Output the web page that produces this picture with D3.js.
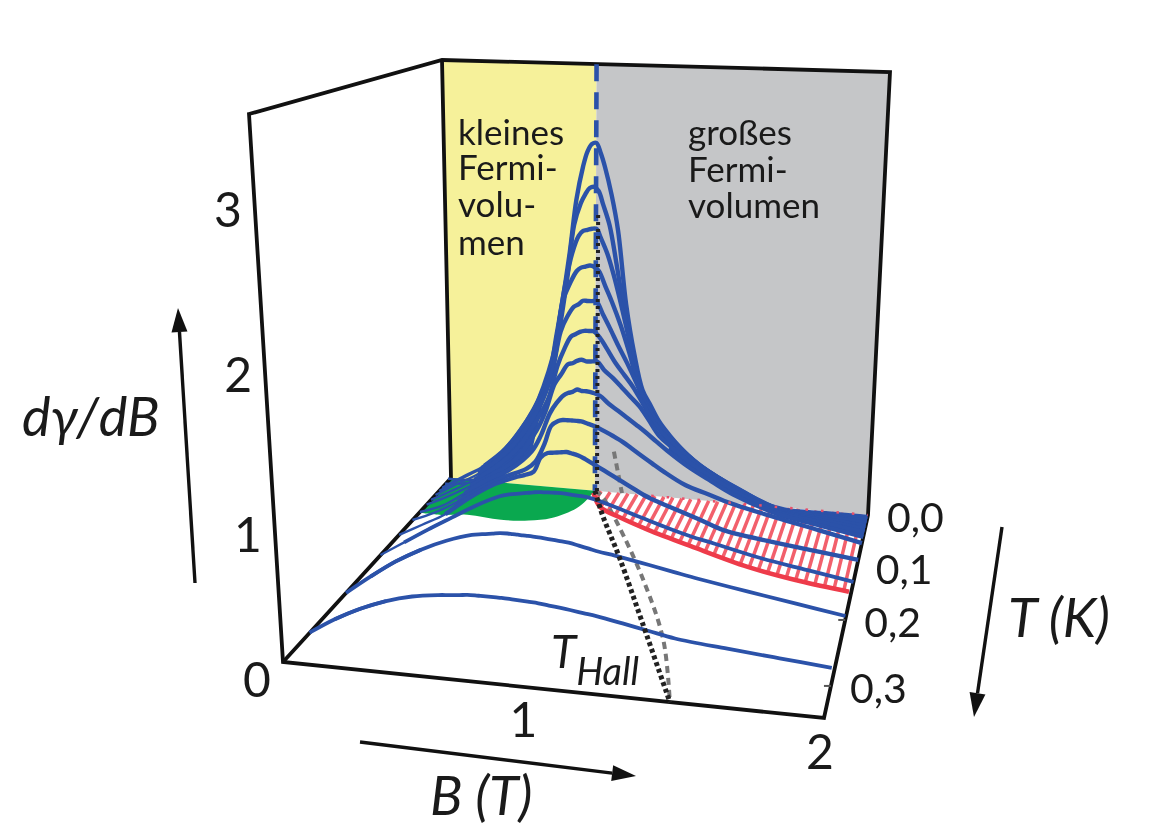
<!DOCTYPE html>
<html>
<head>
<meta charset="utf-8">
<script src="https://cdn.jsdelivr.net/npm/d3@7"></script>
<style>
  html, body { margin: 0; background: #fff; }
  svg { display: block; filter: blur(0.6px); }
  text { font-family: "Lato", sans-serif; fill: #1a1a1a; }
  .it { font-style: italic; }
</style>
</head>
<body>
<svg id="chart" width="1159" height="832"></svg>
<script>
// field grid shared by all the curves (T)
const fieldB = [0,.1,.2,.3,.4,.5,.54,.58,.61,.64,.66,.68,.7,.72,.74,.77,.8,.84,.88,.92,.96,1,1.05,1.1,1.2,1.3,1.4,1.6,1.8,2];

// temperature of each curve (K), from the wall outwards
const curveT = [.004,.008,.012,.016,.021,.027,.033,.042,.054,.087,.128,.2,.3];

// d gamma / dB, one array per curve
const g1  = [.022,.028,.070,.291,.643,1.16,1.55,2.01,2.42,2.68,2.80,2.86,2.87,2.79,2.68,2.47,2.20,1.62,1.23,.945,.809,.679,.565,.468,.304,.187,.095,.004,.002,.001];
const g2  = [.006,.027,.091,.262,.558,1.02,1.38,1.84,2.24,2.41,2.48,2.53,2.54,2.51,2.41,2.25,1.98,1.58,1.26,.973,.828,.694,.581,.492,.344,.241,.139,.017,.009,.001];
const g3  = [0,.114,.225,.390,.648,1.04,1.39,1.79,2.03,2.17,2.21,2.22,2.23,2.23,2.16,2.04,1.87,1.60,1.31,1.02,.864,.721,.622,.529,.378,.266,.172,.037,.019,.002];
const g4  = [0,.118,.230,.390,.641,.978,1.26,1.68,1.81,1.91,1.94,1.95,1.96,1.95,1.92,1.80,1.68,1.50,1.29,1.06,.909,.762,.659,.556,.404,.295,.204,.057,.030,.003];
const g5  = [0,.110,.214,.367,.581,.909,1.12,1.45,1.57,1.65,1.67,1.70,1.70,1.70,1.70,1.60,1.50,1.36,1.23,1.09,.936,.808,.703,.599,.434,.328,.236,.074,.036,0];
const g6  = [0,.095,.201,.328,.504,.799,.953,1.21,1.34,1.44,1.46,1.48,1.49,1.49,1.49,1.44,1.36,1.25,1.16,1.07,.956,.832,.707,.624,.467,.355,.254,.097,.048,0];
const g7  = [0,.086,.188,.300,.431,.700,.866,1.09,1.17,1.25,1.26,1.28,1.29,1.28,1.28,1.28,1.22,1.16,1.09,1.02,.946,.840,.705,.627,.482,.374,.274,.122,.060,.001];
const g8  = [0,.065,.181,.307,.404,.572,.708,.898,.989,1.05,1.07,1.08,1.10,1.09,1.09,1.08,1.06,1.00,.947,.892,.837,.781,.705,.631,.500,.394,.294,.154,.074,0];
const g9  = [.002,.077,.177,.300,.401,.480,.544,.696,.851,.893,.903,.903,.902,.901,.898,.880,.862,.825,.786,.743,.691,.639,.575,.513,.406,.341,.276,.178,.089,0];
const g10 = [0,.094,.191,.332,.448,.524,.547,.580,.697,.737,.741,.745,.748,.752,.744,.729,.702,.660,.617,.575,.532,.490,.436,.395,.325,.255,.184,.115,.058,.002];
const g11 = [.002,.114,.227,.333,.438,.523,.541,.552,.560,.568,.572,.572,.573,.573,.573,.570,.564,.557,.544,.522,.497,.471,.438,.406,.342,.285,.238,.144,.071,0];
const g12 = [0,.136,.260,.359,.436,.490,.499,.507,.514,.514,.511,.509,.506,.504,.501,.495,.488,.478,.468,.450,.431,.412,.395,.374,.332,.289,.247,.172,.100,.029];
const g13 = [.002,.117,.210,.283,.333,.361,.368,.375,.381,.383,.383,.383,.383,.383,.383,.381,.378,.374,.370,.361,.353,.344,.331,.319,.286,.251,.217,.182,.152,.122];
const curves = [g1,g2,g3,g4,g5,g6,g7,g8,g9,g10,g11,g12,g13];

// where neighbouring curves run together into the solid blue band
const bandLeftEnd = [.58,.54,.54,.5,.5,.5,.5,.4,.4];
const bandRightStart = [.84,.88,.92,1,1.05,1.05,1.1];

// phase boundaries on the floor: field (T) and temperature (K)
const greenB = [0,.10,.21,.37,.49,.58,.66,.68,.69];
const greenT = [.043,.044,.042,.046,.045,.040,.025,.013,0];
const redB   = [.69,.76,.88,1.03,1.25,1.53,1.77,1.99];
const redT   = [.003,.021,.034,.049,.077,.111,.132,.147];
const hallB  = [.69,.73,.80,.97,1.20,1.43];
const hallT  = [0,.012,.034,.106,.224,.330];
const hall2B = [.69,.73,.88,1.12,1.31,1.43];
const hall2T = [0,.005,.042,.146,.251,.330];
const wallHallB = [.78,.82];
const wallHallZ = [.36,0];
const criticalB = .69;

const zTicks = [0,1,2,3];
const bTicks = [1,2];
const tTicks = [0,.1,.2,.3];
const tTickLabels = ["0,0","0,1","0,2","0,3"];
const bMax = 2, tMax = .33, zMax = 3.47;

const smallLines = ["kleines","Fermi-","volu-","men"];
const largeLines = ["großes","Fermi-","volumen"];

// ---- box corners on the page, floor and top
const floorBackL = [451,478], floorBackR = [868,515], floorFrontL = [283,662], floorFrontR = [824,718];
const topBackL = [442,60], topBackR = [890,72], topFrontL = [249,114], topFrontR = [849,138];

const uScale = d3.scaleLinear().domain([0,bMax]).range([0,1]);
// the depth axis is not even in the drawing, and differs left and right
const depthLeft = d3.scaleLinear().domain([0,.05,.1,.2,.3,tMax]).range([0,.22,.34,.625,.842,1]);
const depthRight = d3.scaleLinear().domain([0,.1,.2,.3,tMax]).range([0,.256,.517,.842,1]);
const heightScale = d3.scaleLinear().domain([0,1,2,3,zMax]).range([0,.2646,.5566,.8577,1]);

const bilerp = (a,b,c,d,u,v) => [0,1].map(i => (a[i]*(1-u)+b[i]*u)*(1-v) + (c[i]*(1-u)+d[i]*u)*v);

// B,T,z to page pixels
const project = (b,t,z) => {
    const u = uScale(b);
    const v = depthLeft(t)*(1-u) + depthRight(t)*u;
    const w = heightScale(z);
    const p = bilerp(floorBackL,floorBackR,floorFrontL,floorFrontR,u,v);
    const q = bilerp(topBackL,topBackR,topFrontL,topFrontR,u,v);
    return [p[0]+(q[0]-p[0])*w, p[1]+(q[1]-p[1])*w];
};

const svg = d3.select("#chart");
const smooth = d3.line().curve(d3.curveCatmullRom.alpha(.5));
const straight = d3.line();

const BLUE = "#2b52a9", RED = "#ee3b4a", GREEN = "#0aa84f";

// ---- back wall
const wallPoly = (b0,b1) => [project(b0,0,0),project(b1,0,0),project(b1,0,zMax),project(b0,0,zMax)];
svg.append("path").attr("d", straight(wallPoly(0,criticalB))+"Z").attr("fill","#f6f19a");
svg.append("path").attr("d", straight(wallPoly(criticalB,bMax))+"Z").attr("fill","#c5c6c8");

// ---- floor regions
const greenEdge = greenB.map((b,i) => project(b,greenT[i],0));
const greenBack = [project(criticalB,0,0),project(0,0,0)];
svg.append("path").attr("d", smooth(greenEdge)+"L"+straight(greenBack).slice(1)+"Z").attr("fill",GREEN);

const redAt = d3.scaleLinear().domain(redB).range(redT);
svg.append("g").selectAll("line").data(d3.range(.72,2,.043)).join("line")
    .attr("x1", b => project(b,0,0)[0]).attr("y1", b => project(b,0,0)[1])
    .attr("x2", b => project(b,redAt(b),0)[0]).attr("y2", b => project(b,redAt(b),0)[1])
    .attr("stroke","#f2606c").attr("stroke-width",3.5);

// ---- frame
const frameOuter = [project(0,tMax,zMax),project(0,0,zMax),project(bMax,0,zMax),project(bMax,0,0),project(bMax,tMax,0),project(0,tMax,0)];
svg.append("path").attr("d", straight(frameOuter)+"Z").attr("fill","none").attr("stroke","#111").attr("stroke-width",3.8).attr("stroke-linejoin","miter");
svg.append("path").attr("d", straight([project(0,0,zMax),project(0,0,0),project(0,tMax,0)])).attr("fill","none").attr("stroke","#111").attr("stroke-width",3.8);

// small T ticks on the right edge
svg.append("g").selectAll("line").data(tTicks.slice(2)).join("line")
    .attr("x1", t => project(bMax,t,0)[0]).attr("y1", t => project(bMax,t,0)[1])
    .attr("x2", t => project(bMax,t,0)[0]-7).attr("y2", t => project(bMax,t,0)[1])
    .attr("stroke","#555").attr("stroke-width",2);

// ---- T Hall on the floor
svg.append("path").attr("d", smooth(hall2B.map((b,i) => project(b,hall2T[i],0))))
    .attr("fill","none").attr("stroke","#777").attr("stroke-width",4).attr("stroke-dasharray","7 5");
svg.append("path").attr("d", straight(wallHallB.map((b,i) => project(b,0,wallHallZ[i]))))
    .attr("fill","none").attr("stroke","#777").attr("stroke-width",4).attr("stroke-dasharray","7 5");

// ---- red crossover line
svg.append("path").attr("d", smooth(redB.map((b,i) => project(b,redT[i],0))))
    .attr("fill","none").attr("stroke",RED).attr("stroke-width",4.6);

// ---- solid parts of the blue band
const curvePoints = (k, keep) => fieldB.map((b,i) => ({b, p: project(b,curveT[k],curves[k][i])})).filter(d => keep(d.b)).map(d => d.p);
bandLeftEnd.forEach((end,k) => {
    const keep = b => b >= .2 && b <= end;
    svg.append("path").attr("d", straight(curvePoints(k,keep).concat(curvePoints(k+1,keep).reverse()))+"Z").attr("fill",BLUE);
});
bandRightStart.forEach((start,k) => {
    const keep = b => b >= start;
    svg.append("path").attr("d", straight(curvePoints(k,keep).concat(curvePoints(k+1,keep).reverse()))+"Z").attr("fill",BLUE);
});

// ---- blue curves, thin fan at the left edge then the heavier main run
svg.append("g").selectAll("path").data(curves).join("path")
    .attr("d", (vals,k) => smooth(curvePoints(k, b => b <= .3)))
    .attr("fill","none").attr("stroke",BLUE).attr("stroke-width",(d,k) => k < 11 ? 2.4 : 3.8);
svg.append("g").selectAll("path").data(curves).join("path")
    .attr("d", (vals,k) => smooth(curvePoints(k, b => k < 10 ? b >= .2 : b >= .1)))
    .attr("fill","none").attr("stroke",BLUE).attr("stroke-width",(d,k) => k < 10 ? 4.4 : 3.8).attr("stroke-linejoin","round");

// dotted back edge of the hatching, sits on top of the blue band
svg.append("path").attr("d", straight([project(.96,0,0),project(bMax,0,0)]))
    .attr("stroke","#e8506a").attr("stroke-width",2.5).attr("stroke-dasharray","2.5 13").attr("fill","none");

// ---- critical field on the wall and T Hall
svg.append("path").attr("d", straight([project(criticalB,0,zMax),project(criticalB,0,0)]))
    .attr("stroke",BLUE).attr("stroke-width",4.6).attr("stroke-dasharray","17 11").attr("fill","none");
svg.append("path").attr("d", straight([project(criticalB+.01,0,0),project(criticalB+.01,0,2.3)]))
    .attr("stroke","#222").attr("stroke-width",4).attr("stroke-dasharray","3 4").attr("fill","none");
svg.append("path").attr("d", smooth(hallB.map((b,i) => project(b,hallT[i],0))))
    .attr("fill","none").attr("stroke","#222").attr("stroke-width",5).attr("stroke-dasharray","4 3");

// ---- tick labels
svg.append("g").selectAll("text").data(zTicks).join("text")
    .attr("x", z => project(0,tMax,z)[0]-26).attr("y", z => project(0,tMax,z)[1]+35)
    .attr("text-anchor","middle").attr("font-size",48).text(d => d);
svg.append("g").selectAll("text").data(bTicks).join("text")
    .attr("x", b => project(b,tMax,0)[0]-30+26*(b-1)).attr("y", b => project(b,tMax,0)[1]+(b==1?47:51))
    .attr("text-anchor","middle").attr("font-size",48).text(d => d);
svg.append("g").selectAll("text").data(tTicks).join("text")
    .attr("x", t => project(bMax,t,0)[0]+19).attr("y", t => project(bMax,t,0)[1]+17)
    .attr("font-size",41).text((d,i) => tTickLabels[i]);

// ---- wall captions
const smallBase = [145,180,217,255], largeBase = [145,182,218];
svg.append("text").attr("font-size",35)
    .selectAll("tspan").data(smallLines).join("tspan")
    .attr("x",458).attr("y",(d,i) => smallBase[i]).text(d => d);
svg.append("text").attr("font-size",35)
    .selectAll("tspan").data(largeLines).join("tspan")
    .attr("x",688).attr("y",(d,i) => largeBase[i]).text(d => d);

// ---- axis titles
svg.append("text").attr("class","it").attr("x",22).attr("y",436).attr("font-size",54).text("dγ/dB");
svg.append("text").attr("class","it").attr("x",430).attr("y",815).attr("font-size",54).text("B (T)");
svg.append("text").attr("class","it").attr("x",1008).attr("y",637).attr("font-size",54).text("T (K)");
const hallLabel = svg.append("text").attr("class","it").attr("x",551).attr("y",668).attr("font-size",46);
hallLabel.append("tspan").text("T");
hallLabel.append("tspan").attr("dy",17).attr("dx",0).attr("font-size",38).text("Hall");

// ---- arrows
const arrow = (x1,y1,x2,y2) => {
    const a = Math.atan2(y2-y1,x2-x1), len = 24, half = 8;
    const bx = x2-len*Math.cos(a), by = y2-len*Math.sin(a);
    svg.append("line").attr("x1",x1).attr("y1",y1).attr("x2",bx).attr("y2",by).attr("stroke","#111").attr("stroke-width",3.4);
    svg.append("path").attr("fill","#111")
        .attr("d", straight([[x2,y2],[bx-half*Math.sin(a),by+half*Math.cos(a)],[bx+half*Math.sin(a),by-half*Math.cos(a)]])+"Z");
};
arrow(195,583,178,308);
arrow(360,742,636,776);
arrow(1002,527,974,717);
</script>
</body>
</html>
